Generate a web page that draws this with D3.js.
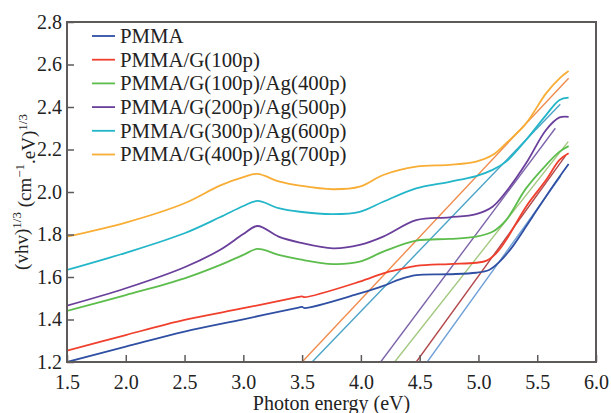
<!DOCTYPE html>
<html>
<head>
<meta charset="utf-8">
<script src="https://cdn.jsdelivr.net/npm/d3@7"></script>
<style>
  html, body { margin: 0; padding: 0; background: #fff; }
  svg { display: block; font-family: "Liberation Serif", "DejaVu Serif", serif; }
</style>
</head>
<body>
<svg id="chart" width="611" height="413"></svg>
<script>
// Series names (legend order)
const seriesNames = [
  "PMMA",
  "PMMA/G(100p)",
  "PMMA/G(100p)/Ag(400p)",
  "PMMA/G(200p)/Ag(500p)",
  "PMMA/G(300p)/Ag(600p)",
  "PMMA/G(400p)/Ag(700p)"
];
const seriesColors = ["#2f4fa3", "#f0402d", "#5cbd4c", "#6a3f9b", "#22b6c8", "#f8ad35"];
const fitColors    = ["#6e9fd6", "#b2474a", "#a3c87f", "#7c63aa", "#4aa3c6", "#f08b4c"];

// (photon energy eV, (αhν)^1/3) samples for each film
const pmma = [[1.5,1.200],[2.0,1.272],[2.5,1.343],[3.0,1.401],[3.47,1.456],[3.50,1.459],[3.52,1.454],
  [3.99,1.523],[4.19,1.558],[4.33,1.589],[4.47,1.609],[4.75,1.613],[4.98,1.620],[5.09,1.633],
  [5.18,1.672],[5.29,1.743],[5.46,1.884],[5.63,2.025],[5.767,2.132]];
const pmmaG100 = [[1.5,1.253],[2.0,1.327],[2.5,1.398],[3.0,1.453],[3.47,1.506],[3.50,1.509],[3.52,1.505],
  [3.99,1.578],[4.19,1.617],[4.33,1.636],[4.47,1.652],[4.75,1.661],[4.98,1.667],[5.07,1.677],
  [5.15,1.711],[5.235,1.774],[5.405,1.931],[5.575,2.056],[5.69,2.151],[5.767,2.182]];
const g100Ag400 = [[1.5,1.440],[2.0,1.515],[2.5,1.594],[2.8,1.656],[3.0,1.704],[3.12,1.732],[3.3,1.704],
  [3.48,1.683],[3.763,1.661],[3.99,1.672],[4.19,1.719],[4.47,1.771],[4.754,1.779],[4.98,1.790],
  [5.12,1.813],[5.235,1.868],[5.405,2.017],[5.575,2.127],[5.69,2.190],[5.767,2.216]];
const g200Ag500 = [[1.5,1.465],[2.0,1.547],[2.5,1.646],[2.8,1.727],[3.0,1.802],[3.12,1.840],[3.3,1.790],
  [3.48,1.762],[3.763,1.735],[3.99,1.751],[4.19,1.790],[4.47,1.868],[4.754,1.881],[4.98,1.896],
  [5.12,1.931],[5.235,2.001],[5.405,2.135],[5.575,2.292],[5.69,2.351],[5.767,2.354]];
const g300Ag600 = [[1.5,1.633],[2.0,1.714],[2.5,1.806],[2.8,1.881],[3.0,1.934],[3.12,1.958],[3.3,1.924],
  [3.48,1.907],[3.763,1.896],[3.99,1.907],[4.19,1.954],[4.47,2.017],[4.754,2.048],[4.98,2.075],
  [5.12,2.104],[5.235,2.143],[5.405,2.245],[5.575,2.362],[5.69,2.433],[5.767,2.444]];
const g400Ag700 = [[1.5,1.790],[2.0,1.856],[2.5,1.947],[2.8,2.030],[3.0,2.070],[3.12,2.085],[3.3,2.050],
  [3.48,2.030],[3.763,2.013],[3.99,2.025],[4.19,2.080],[4.47,2.119],[4.754,2.128],[4.98,2.143],
  [5.12,2.174],[5.235,2.229],[5.405,2.323],[5.575,2.464],[5.69,2.535],[5.767,2.569]];
const seriesValues = [pmma, pmmaG100, g100Ag400, g200Ag500, g300Ag600, g400Ag700];

// Linear band-edge fits (start and end points)
const fitLines = [
  [[4.564,1.2],[5.700,2.075]],
  [[4.471,1.2],[5.740,2.170]],
  [[4.287,1.2],[5.764,2.237]],
  [[4.168,1.2],[5.654,2.300]],
  [[3.585,1.2],[5.696,2.413]],
  [[3.500,1.2],[5.767,2.535]]
];

const xTicks = [1.5, 2.0, 2.5, 3.0, 3.5, 4.0, 4.5, 5.0, 5.5, 6.0];
const yTicks = [1.2, 1.4, 1.6, 1.8, 2.0, 2.2, 2.4, 2.6, 2.8];

const margin = { left: 67, right: 15, top: 22, bottom: 51 };
const width = 611, height = 413;
const svg = d3.select("#chart");

const x = d3.scaleLinear().domain([1.5, 6.0]).range([margin.left, width - margin.right]);
const y = d3.scaleLinear().domain([1.2, 2.8]).range([height - margin.bottom, margin.top]);

svg.append("defs").append("clipPath").attr("id", "plot-clip")
  .append("rect")
  .attr("x", x(1.5)).attr("y", y(2.8))
  .attr("width", x(6.0) - x(1.5)).attr("height", y(1.2) - y(2.8));

const plot = svg.append("g").attr("clip-path", "url(#plot-clip)");

// fit lines
const straight = d3.line().x(d => x(d[0])).y(d => y(d[1]));
plot.selectAll("path.fit").data(fitLines).join("path")
  .attr("class", "fit")
  .attr("d", straight)
  .attr("fill", "none")
  .attr("stroke", (d, i) => fitColors[i])
  .attr("stroke-width", 1.4);

// measured curves
const smooth = d3.line().x(d => x(d[0])).y(d => y(d[1])).curve(d3.curveCatmullRom.alpha(0.5));
plot.selectAll("path.series").data(seriesValues).join("path")
  .attr("class", "series")
  .attr("d", smooth)
  .attr("fill", "none")
  .attr("stroke", (d, i) => seriesColors[i])
  .attr("stroke-width", 1.8)
  .attr("stroke-linejoin", "round");

// frame
const axisColor = "#5e5a5a";
svg.append("rect")
  .attr("x", x(1.5)).attr("y", y(2.8))
  .attr("width", x(6.0) - x(1.5)).attr("height", y(1.2) - y(2.8))
  .attr("fill", "none").attr("stroke", axisColor).attr("stroke-width", 2);

// axes with inward ticks
const xAxis = svg.append("g")
  .attr("transform", `translate(0,${y(1.2)})`)
  .call(d3.axisBottom(x).tickValues(xTicks).tickFormat(d3.format(".1f"))
    .tickSizeInner(-7).tickSizeOuter(0).tickPadding(13));
const yAxis = svg.append("g")
  .attr("transform", `translate(${x(1.5)},0)`)
  .call(d3.axisLeft(y).tickValues(yTicks).tickFormat(d3.format(".1f"))
    .tickSizeInner(-7).tickSizeOuter(0).tickPadding(5));

[xAxis, yAxis].forEach(g => {
  g.select(".domain").remove();
  g.selectAll(".tick line").attr("stroke", axisColor).attr("stroke-width", 1.5);
  g.selectAll(".tick text")
    .attr("fill", "#222")
    .style("font-family", "'Liberation Serif', serif")
    .style("font-size", "20px");
});

// axis titles
svg.append("text")
  .attr("x", (x(1.5) + x(6.0)) / 2)
  .attr("y", 410)
  .attr("text-anchor", "middle")
  .attr("fill", "#222")
  .style("font-size", "20px")
  .text("Photon energy (eV)");

const yTitle = svg.append("text")
  .attr("transform", `translate(28,${(y(1.2) + y(2.8)) / 2}) rotate(-90)`)
  .attr("text-anchor", "middle")
  .attr("fill", "#222")
  .style("font-size", "19px");
yTitle.append("tspan").text("(vhv)");
yTitle.append("tspan").attr("dy", "-0.55em").style("font-size", "13px").text("1/3");
yTitle.append("tspan").attr("dy", "0.55em").text(" (cm");
yTitle.append("tspan").attr("dy", "-0.55em").style("font-size", "13px").text("\u22121");
yTitle.append("tspan").attr("dy", "0.55em").text(".eV)");
yTitle.append("tspan").attr("dy", "-0.55em").style("font-size", "13px").text("1/3");

// legend
const legend = svg.append("g");
const rows = legend.selectAll("g").data(seriesNames).join("g")
  .attr("transform", (d, i) => `translate(0,${36 + i * 23.7})`);
rows.append("line")
  .attr("x1", 92).attr("x2", 115).attr("y1", 0).attr("y2", 0)
  .attr("stroke", (d, i) => seriesColors[i]).attr("stroke-width", 1.8);
rows.append("text")
  .attr("x", 120).attr("y", 0).attr("dy", "0.33em")
  .attr("fill", "#222")
  .style("font-size", "20.8px")
  .text(d => d);
</script>
</body>
</html>
